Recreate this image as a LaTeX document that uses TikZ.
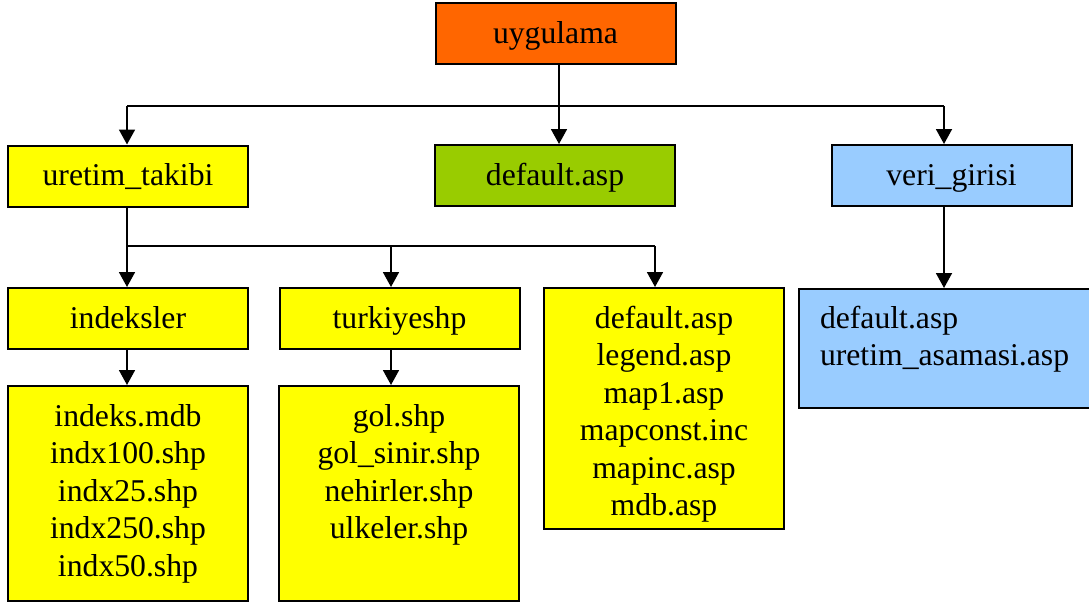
\documentclass[tikz,border=0pt]{standalone}
\usepackage{fontspec}
\setmainfont{Liberation Serif}
\usepackage{tikz}
\usetikzlibrary{arrows.meta}

\definecolor{rootorange}{HTML}{FF6600}
\definecolor{pagegreen}{HTML}{99CC00}
\definecolor{diryellow}{HTML}{FFFF00}
\definecolor{dirblue}{HTML}{99CCFF}

% list of files, top aligned in a box of given height and width
\newcommand{\filelist}[3]{\parbox[c][#1][t]{#2}{\centering\rule{0pt}{40pt}#3}}

\begin{document}
\begin{tikzpicture}[x=1pt,y=-1pt,
    box/.style={draw,line width=2pt,inner sep=0pt,minimum width=240pt,minimum height=61pt,
        text height=22pt,text depth=3pt},
    listbox/.style={draw,line width=2pt,inner sep=0pt},
    wire/.style={line width=1.8pt},
    arrow/.style={line width=1.8pt,-{Triangle[width=16pt,length=15pt]}},
    every node/.style={font=\fontsize{31.7}{37.5}\selectfont}]
    \useasboundingbox (0,0) rectangle (1089,605);

    		\draw (555.5,33.5) 	node (app) [box,fill=rootorange] {uygulama};
    		\draw (128,176) 		node (uretim) [box,fill=diryellow] {uretim\_takibi};
    		\draw (555,175.5) 	node (defpage) [box,fill=pagegreen] {default.asp};
    		\draw (951.5,175.5) 	node (veri) [box,fill=dirblue] {veri\_girisi};
    		\draw (128,318.5) 	node (indeks) [box,fill=diryellow] {indeksler};
    		\draw (399.5,318.5) 	node (turkiye) [box,fill=diryellow] {turkiyeshp};
    		\draw (664,408.5) 	node (uretimfiles) [listbox,fill=diryellow]
    		    {\filelist{241pt}{240pt}{default.asp\\legend.asp\\map1.asp\\mapconst.inc\\mapinc.asp\\mdb.asp}};
    		\draw (128,493.5) 	node (indeksfiles) [listbox,fill=diryellow]
    		    {\filelist{215pt}{240pt}{indeks.mdb\\indx100.shp\\indx25.shp\\indx250.shp\\indx50.shp}};
    		\draw (399,493.5) 	node (turkiyefiles) [listbox,fill=diryellow]
    		    {\filelist{215pt}{240pt}{gol.shp\\gol\_sinir.shp\\nehirler.shp\\ulkeler.shp}};
    		\draw (946,348.5) 	node (verifiles) [listbox,fill=dirblue]
    		    {\parbox[c][119pt][t]{294pt}{\raggedright\leftskip=21pt\rule{0pt}{39pt}default.asp\\uretim\_asamasi.asp}};

    		% bus below uygulama
    		\coordinate (top) at (559,106);
    		\coordinate (topl) at (127,106);
    		\coordinate (topr) at (944,106);
    		\draw[wire] (app.south -| top) -- (top);
    		\draw[wire] (topl) -- (topr);
    		\draw[arrow] (topl) -- (topl |- uretim.north);
    		\draw[arrow] (top) -- (top |- defpage.north);
    		\draw[arrow] (topr) -- (topr |- veri.north);

    		% bus below uretim_takibi
    		\coordinate (midl) at (127,246);
    		\coordinate (midc) at (391,246);
    		\coordinate (midr) at (655,246);
    		\draw[wire] (uretim.south -| midl) -- (midl) -- (midr);
    		\draw[arrow] (midl) -- (midl |- indeks.north);
    		\draw[arrow] (midc) -- (midc |- turkiye.north);
    		\draw[arrow] (midr) -- (midr |- uretimfiles.north);

    		\draw[arrow] (indeks.south -| midl) -- (midl |- indeksfiles.north);
    		\draw[arrow] (turkiye.south -| midc) -- (midc |- turkiyefiles.north);
    		\draw[arrow] (veri.south -| topr) -- (topr |- verifiles.north);
	 \end{tikzpicture}
\end{document}
